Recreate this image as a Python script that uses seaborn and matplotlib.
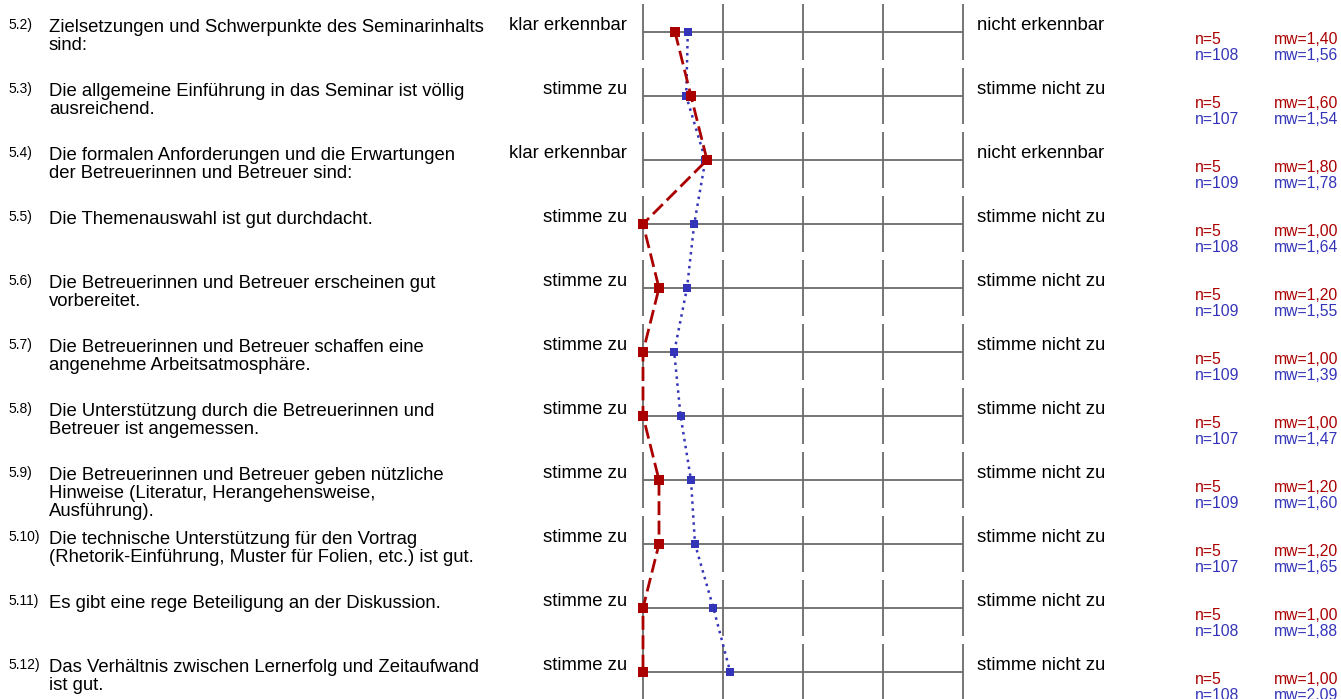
import pandas as pd
import matplotlib.pyplot as plt
import seaborn as sns

# Items of the questionnaire (section 5)
item_ids = ["5.2)", "5.3)", "5.4)", "5.5)", "5.6)", "5.7)", "5.8)", "5.9)", "5.10)", "5.11)", "5.12)"]
questions = [
    "Zielsetzungen und Schwerpunkte des Seminarinhalts\nsind:",
    "Die allgemeine Einführung in das Seminar ist völlig\nausreichend.",
    "Die formalen Anforderungen und die Erwartungen\nder Betreuerinnen und Betreuer sind:",
    "Die Themenauswahl ist gut durchdacht.",
    "Die Betreuerinnen und Betreuer erscheinen gut\nvorbereitet.",
    "Die Betreuerinnen und Betreuer schaffen eine\nangenehme Arbeitsatmosphäre.",
    "Die Unterstützung durch die Betreuerinnen und\nBetreuer ist angemessen.",
    "Die Betreuerinnen und Betreuer geben nützliche\nHinweise (Literatur, Herangehensweise,\nAusführung).",
    "Die technische Unterstützung für den Vortrag\n(Rhetorik-Einführung, Muster für Folien, etc.) ist gut.",
    "Es gibt eine rege Beteiligung an der Diskussion.",
    "Das Verhältnis zwischen Lernerfolg und Zeitaufwand\nist gut.",
]
left_pole = ["klar erkennbar", "stimme zu", "klar erkennbar", "stimme zu", "stimme zu", "stimme zu",
             "stimme zu", "stimme zu", "stimme zu", "stimme zu", "stimme zu"]
right_pole = ["nicht erkennbar", "stimme nicht zu", "nicht erkennbar", "stimme nicht zu", "stimme nicht zu",
              "stimme nicht zu", "stimme nicht zu", "stimme nicht zu", "stimme nicht zu", "stimme nicht zu",
              "stimme nicht zu"]

# course (red) vs. all courses (blue)
mw_course = [1.40, 1.60, 1.80, 1.00, 1.20, 1.00, 1.00, 1.20, 1.20, 1.00, 1.00]
n_course = [5, 5, 5, 5, 5, 5, 5, 5, 5, 5, 5]
mw_all = [1.56, 1.54, 1.78, 1.64, 1.55, 1.39, 1.47, 1.60, 1.65, 1.88, 2.09]
n_all = [108, 107, 109, 108, 109, 109, 107, 109, 107, 108, 108]

scale = [1, 2, 3, 4, 5]

RED = "#aa0000"
BLUE = "#3434b8"
GRID = "#6a6a6a"

sns.set_style("white")
plt.rcParams["font.family"] = ["Liberation Sans", "DejaVu Sans"]

W, H = 1341, 699
fig = plt.figure(figsize=(W / 100, H / 100), dpi=100)
ax = fig.add_axes([0, 0, 1, 1])

# pixel layout: scale value 1 at x=643, step 80 px; row 0 at y=32, step 64 px
X0, DX, Y0, DY = 643, 80, 32, 64
ax.set_xlim(1 - X0 / DX, 1 + (W - X0) / DX)
ax.set_ylim((H - Y0) / DY, -Y0 / DY)
ax.axis("off")


def px_x(p):
    return 1 + (p - X0) / DX


def dy(p):
    return p / DY


rows = list(range(len(item_ids)))

# grid per row
for i in rows:
    ax.vlines(scale, i - dy(28), i + dy(28), color=GRID, lw=1.3, zorder=1)
    ax.hlines(i, scale[0], scale[-1], color=GRID, lw=1.3, zorder=1)

df = pd.DataFrame({"row": rows, "course": mw_course, "all": mw_all})

sns.lineplot(data=df, x="all", y="row", orient="y", sort=False, estimator=None, ax=ax,
             color=BLUE, lw=1.8, linestyle=(0, (1, 1.8)), marker="s", markersize=6.2,
             markeredgewidth=0, zorder=3)
sns.lineplot(data=df, x="course", y="row", orient="y", sort=False, estimator=None, ax=ax,
             color=RED, lw=2.0, linestyle=(0, (5, 2)), marker="s", markersize=6.5,
             markeredgewidth=0, zorder=4)

for i in rows:
    ax.text(px_x(8), i - dy(3), item_ids[i], fontsize=10, color="black", va="baseline", ha="left")
    for k, line in enumerate(questions[i].split("\n")):
        ax.text(px_x(49), i + dy(0.5 + 18 * k), line, fontsize=13.3, color="black",
                va="baseline", ha="left")
    ax.text(px_x(627), i - dy(2), left_pole[i], fontsize=13.3, color="black", va="baseline", ha="right")
    ax.text(px_x(977), i - dy(2), right_pole[i], fontsize=13.3, color="black", va="baseline", ha="left")
    ax.text(px_x(1195), i + dy(12), f"n={n_course[i]}", fontsize=11.3, color=RED, va="baseline")
    ax.text(px_x(1274), i + dy(12), "mw=" + f"{mw_course[i]:.2f}".replace(".", ","),
            fontsize=11.3, color=RED, va="baseline")
    ax.text(px_x(1195), i + dy(28), f"n={n_all[i]}", fontsize=11.3, color=BLUE, va="baseline")
    ax.text(px_x(1274), i + dy(28), "mw=" + f"{mw_all[i]:.2f}".replace(".", ","),
            fontsize=11.3, color=BLUE, va="baseline")

fig.savefig("out.png", dpi=100)
